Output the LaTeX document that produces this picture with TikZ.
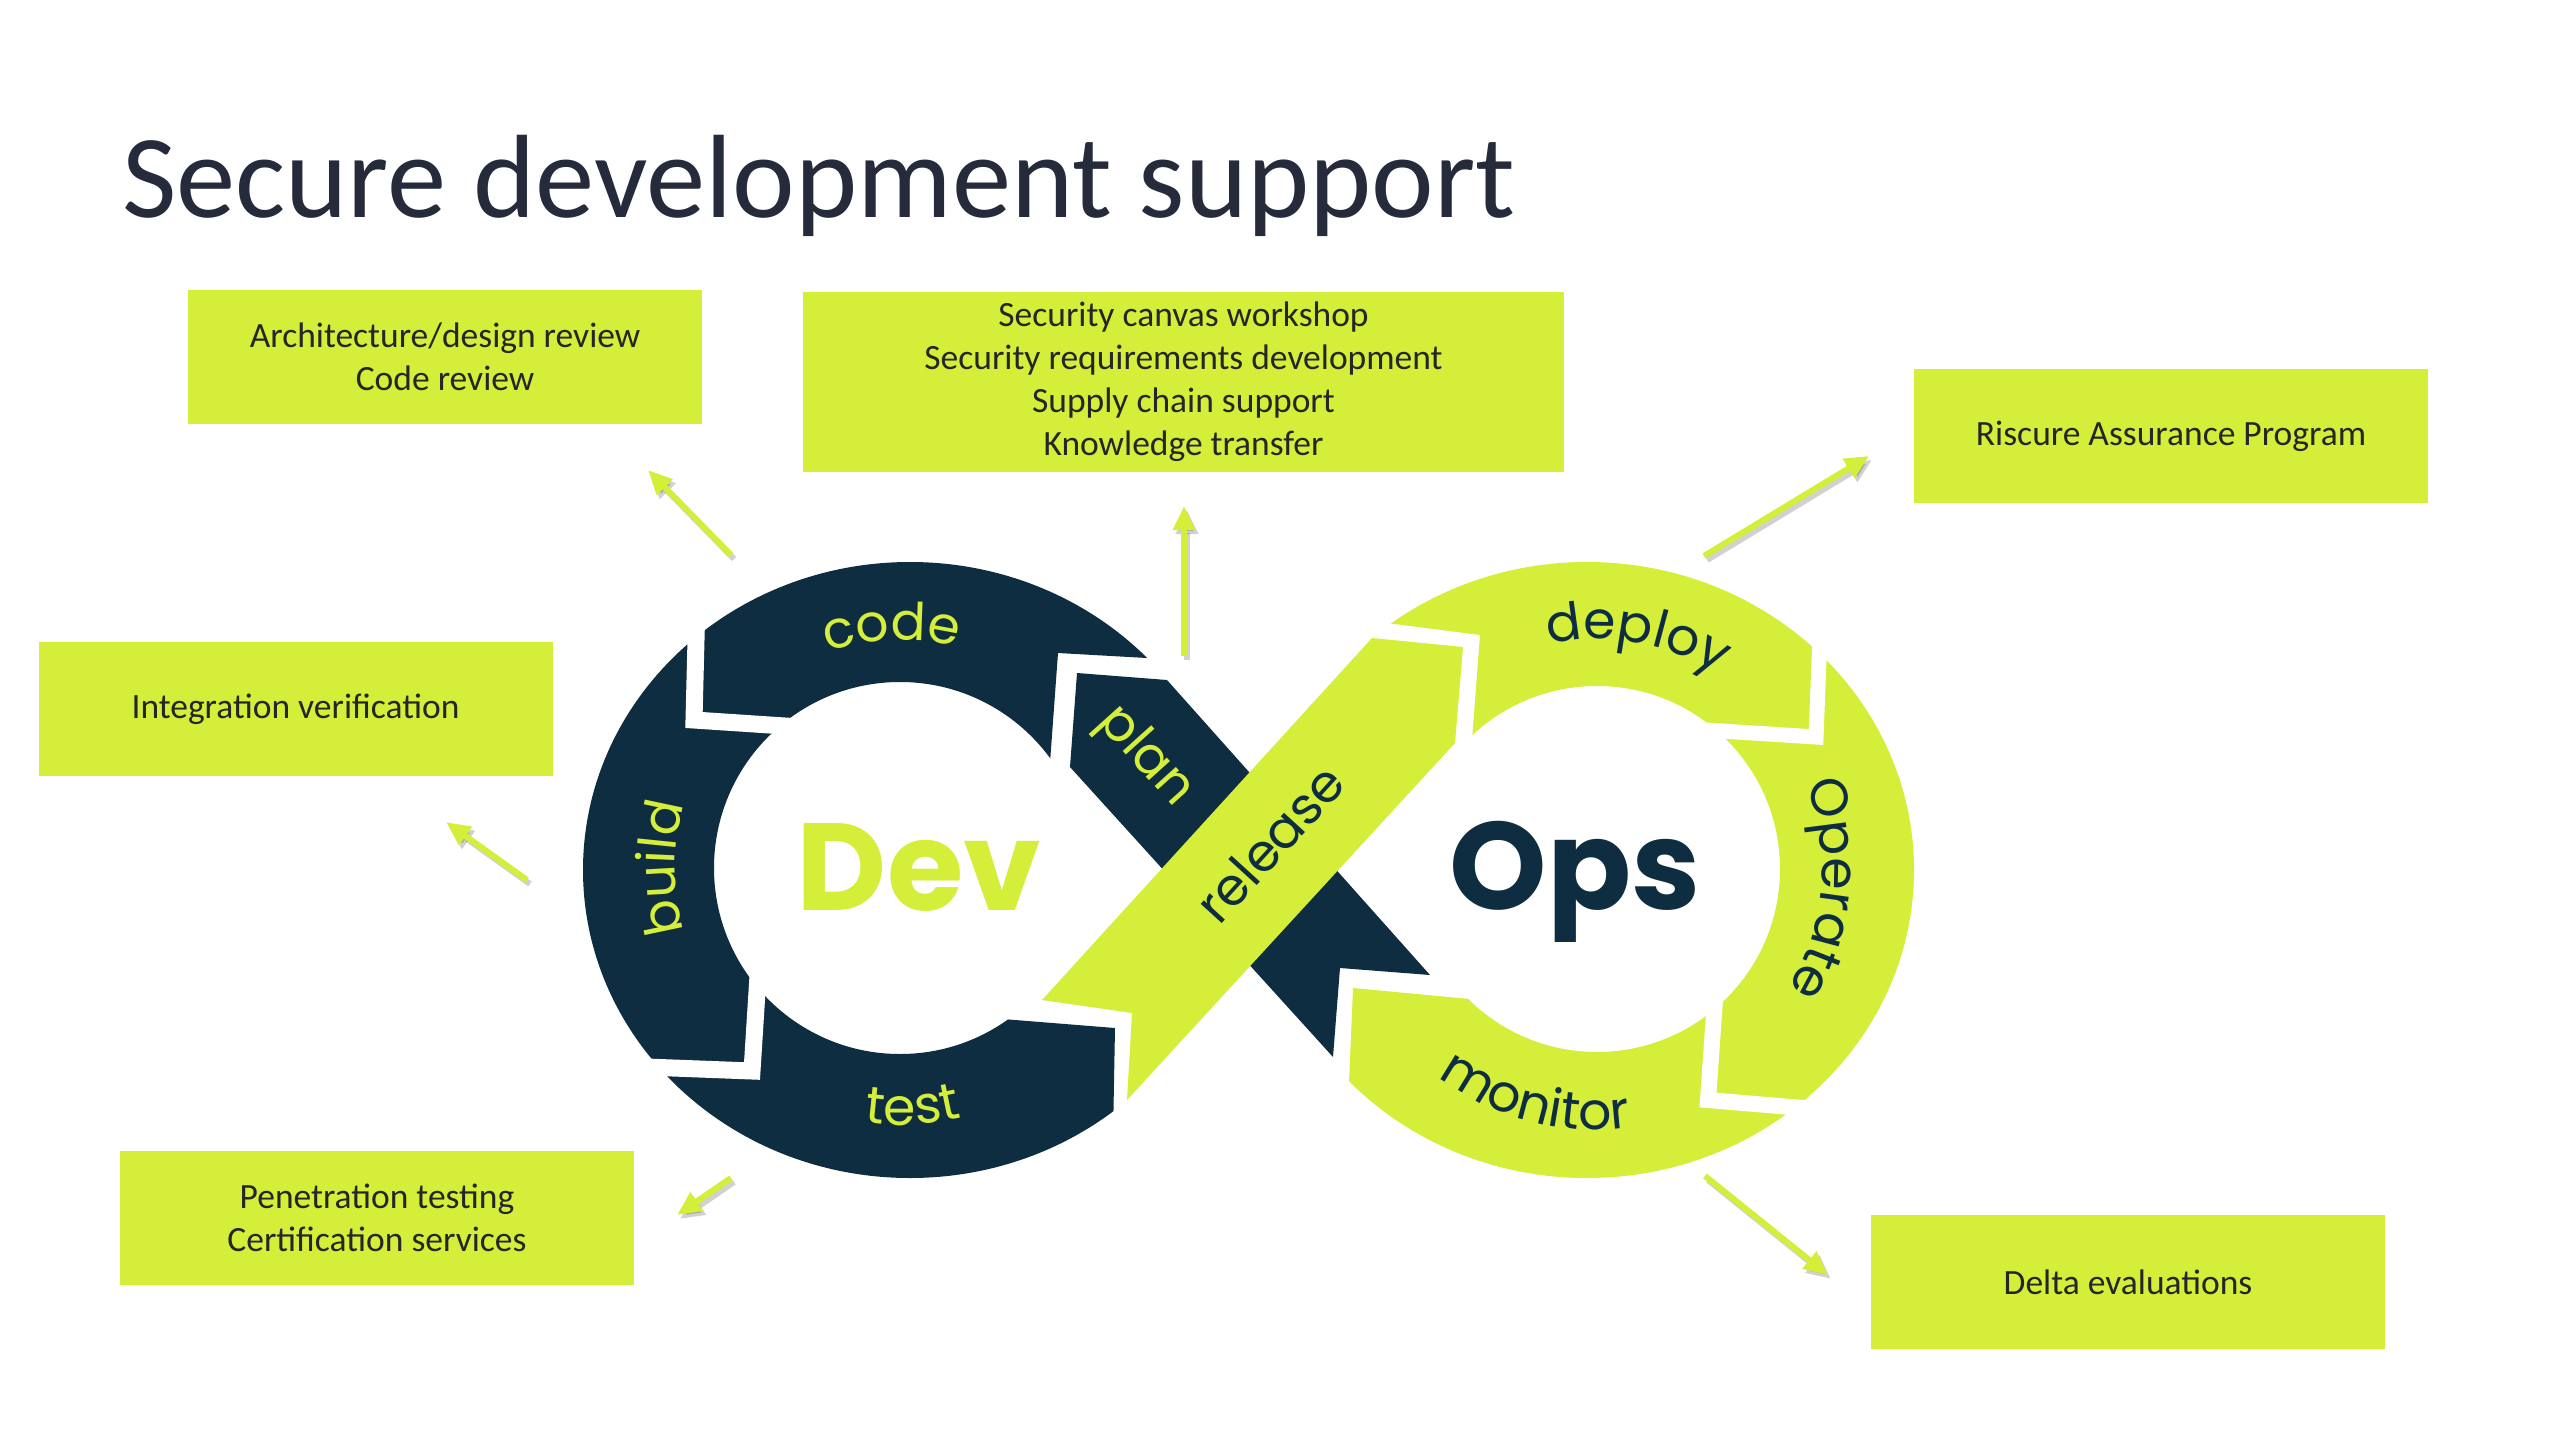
\documentclass[tikz,border=0pt]{standalone}
\usepackage{fontspec}
\setmainfont{Carlito}
\newfontfamily\popfont{Poppins}
\usetikzlibrary{arrows.meta,decorations.text}
\definecolor{limeg}{RGB}{212,238,58}
\definecolor{navy}{RGB}{15,45,64}
\definecolor{titlec}{RGB}{38,43,59}
\definecolor{boxtext}{RGB}{38,38,38}
\newcommand\ringLime{\popfont\fontsize{52}{52}\selectfont\color{limeg}}
\newcommand\ringNavy{\popfont\fontsize{52}{52}\selectfont\color{navy}}
\begin{document}
\begin{tikzpicture}[x=1pt,y=-1pt,
  infobox/.style={fill=limeg, minimum width=514pt, minimum height=134pt, inner sep=0pt,
    align=center, text=boxtext, font=\fontsize{35.5}{43}\selectfont},
  arr/.style={draw=limeg, line width=6pt, -{Triangle[length=24pt,width=21pt]}},
  arrshadow/.style={draw=black, opacity=0.18, line width=6pt, -{Triangle[length=24pt,width=21pt]}},
  gapline/.style={draw=white, line width=17pt, line join=miter, line cap=butt},
  biglabel/.style={font=\popfont\bfseries\fontsize{124}{124}\selectfont, anchor=base, inner sep=0pt},
  bandlabel/.style={font=\popfont\fontsize{52}{52}\selectfont, inner sep=0pt}
  ]
\fill[white] (0,0) rectangle (2560,1440);
\useasboundingbox (0,0) rectangle (2560,1440);

% title
\node[anchor=base west, inner sep=0pt, text=titlec, font=\fontsize{118.5}{140}\selectfont] (title) at (122,217) {Secure development support};

% Dev ring
\begin{scope}
\clip (300,300) -- (1300,300) -- (1300,666) -- (1147,658) -- (1058,653) -- (1048,790) -- (990,1018) -- (1115,1028) -- (1110,1300) -- (300,1300) -- cycle;
\fill[navy, even odd rule] (910,870) ellipse [x radius=327, y radius=308] (900,868) circle [radius=186];
\end{scope}
% Ops ring
\begin{scope}
\clip (2200,300) -- (1200,300) -- (1200,599) -- (1480,635) -- (1472,740) -- (1480,1000) -- (1353,988) -- (1340,1300) -- (2200,1300) -- cycle;
\fill[limeg, even odd rule] (1587,870) ellipse [x radius=327, y radius=308] (1597,869) circle [radius=183];
\end{scope}
% gaps between segments
\draw[gapline] (697,600) -- (694,720) -- (800,727);
\draw[gapline] (620,1066) -- (752,1071) -- (759,960);
\draw[gapline, line width=15pt] (1821,610) -- (1816,737) -- (1690,729);
\draw[gapline, line width=16pt] (1716,985) -- (1708,1100) -- (1850,1112);

% plan band
\fill[navy] (1077,673) -- (1167,680) -- (1430,975) -- (1340,968) -- (1333,1057) -- (1070,767) -- cycle;
% release band
\fill[limeg] (1042,1000) -- (1132,1013) -- (1127,1100) -- (1455,743) -- (1463,647) -- (1372,638) -- cycle;

% centre words
\node[biglabel, text=limeg] (dev) at (919,910) {Dev};
\node[biglabel, text=navy] (ops) at (1575,909) {Ops};

% ring labels
\path[decorate, decoration={text along path, text={|\ringLime|code}, text align=center}]
  (900,868) ++(248:228) arc[start angle=248, end angle=288, radius=228];
\path[decorate, decoration={text along path, text={|\ringLime|build}, text align=center}]
  (900,868) ++(155:225) arc[start angle=155, end angle=205, radius=225];
\path[decorate, decoration={text along path, text={|\ringLime|test}, text align=center}]
  (900,868) ++(110:257) arc[start angle=110, end angle=64, radius=257];
\path[decorate, decoration={text along path, text={|\ringNavy|deploy}, text align=center}]
  (1597,869) ++(250:230) arc[start angle=250, end angle=310, radius=230];
\path[decorate, decoration={text along path, text={|\ringNavy|Operate}, text align=center}]
  (1597,869) ++(-30:225) arc[start angle=-30, end angle=40, radius=225];
\path[decorate, decoration={text along path, text={|\ringNavy|monitor}, text align=center}]
  (1597,869) ++(136:261) arc[start angle=136, end angle=74, radius=261];
\node[bandlabel, text=limeg, rotate=-48] (planlbl) at (1145,757) {plan};
\node[bandlabel, text=navy, rotate=47.6] (releaselbl) at (1270,843) {release};

% boxes
\node[infobox] (boxA) at (445,357) {Architecture/design review\\Code review};
\node[infobox, minimum width=761pt, minimum height=180pt] (boxB) at (1183.5,382) {Security canvas workshop\\Security requirements development\\Supply chain support\\Knowledge transfer};
\node[infobox] (boxC) at (2171,436) {Riscure Assurance Program};
\node[infobox] (boxD) at (295.5,709) {Integration verification};
\node[infobox] (boxE) at (377,1218) {Penetration testing\\Certification services};
\node[infobox] (boxF) at (2128,1282) {Delta evaluations};

% arrows
\coordinate (a1s) at (731,555); \coordinate (a1e) at (648,470);
\coordinate (a2s) at (1184,656); \coordinate (a2e) at (1184,506);
\coordinate (a3s) at (1704,556); \coordinate (a3e) at (1869,456);
\coordinate (a4s) at (527,880); \coordinate (a4e) at (446,822);
\coordinate (a5s) at (731,1178); \coordinate (a5e) at (677,1215);
\coordinate (a6s) at (1705,1176); \coordinate (a6e) at (1828,1275);
\foreach \s/\e in {a1s/a1e,a2s/a2e,a3s/a3e,a4s/a4e,a5s/a5e,a6s/a6e}{
  \draw[arrshadow] ([shift={(3,4)}]\s) -- ([shift={(3,4)}]\e);
  \draw[arr] (\s) -- (\e);
}
\end{tikzpicture}
\end{document}
